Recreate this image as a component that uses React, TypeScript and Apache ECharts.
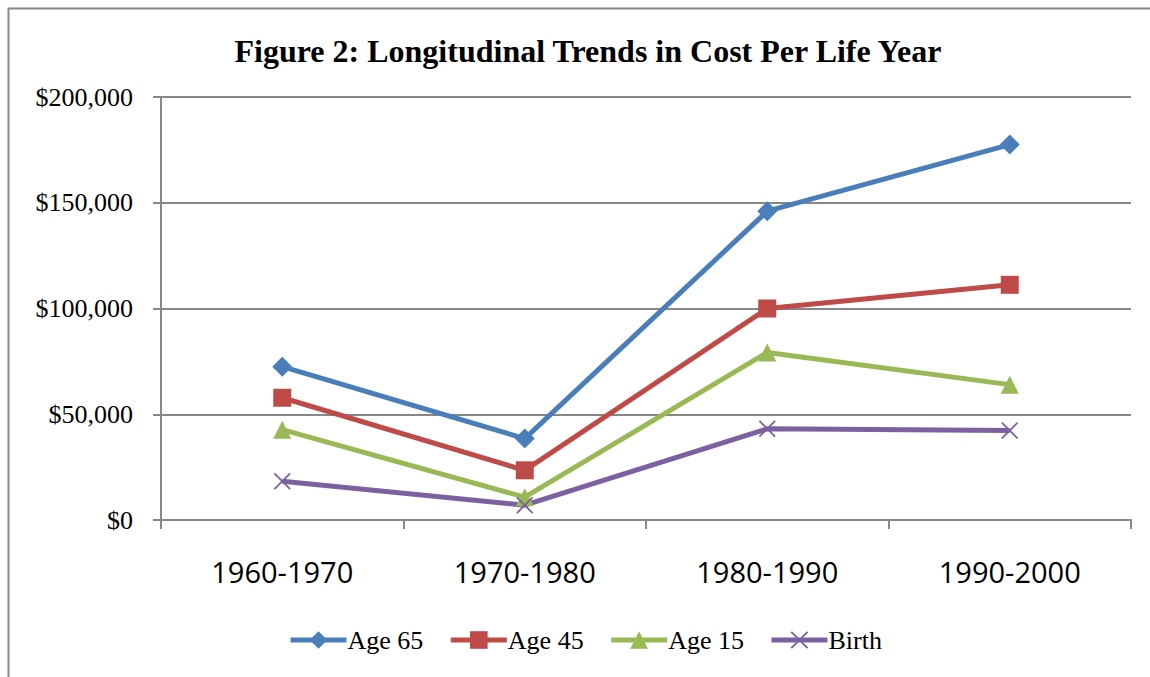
import React, { useEffect, useRef } from "react";
import * as echarts from "echarts";

const categories = ["1960-1970", "1970-1980", "1980-1990", "1990-2000"];
const age65 = [72500, 38500, 146000, 177500];
const age45 = [57800, 23500, 100000, 111200];
const age15 = [42700, 10800, 79200, 64000];
const birth = [18300, 7000, 43100, 42300];
const yTicks = { min: 0, max: 200000, interval: 50000 };

const crossPath =
  "path://M0,1.5 L1.5,0 L10,8.5 L18.5,0 L20,1.5 L11.5,10 L20,18.5 L18.5,20 L10,11.5 L1.5,20 L0,18.5 L8.5,10 Z";

export default function App() {
  const ref = useRef<HTMLDivElement>(null);
  useEffect(() => {
    const chart = echarts.init(ref.current!, null, { renderer: "svg" });
    const grey = "#878787";
    const serif = "Liberation Serif, Times New Roman, serif";
    const mk = (name: string, data: number[], color: string, symbol: string, size: number) => ({
      name,
      type: "line",
      data,
      symbol,
      symbolSize: size,
      lineStyle: { color, width: 5 },
      itemStyle: { color, borderColor: color, borderWidth: 0 },
      z: 3,
    });
    chart.setOption({
      animation: false,
      backgroundColor: "#fff",
      title: {
        text: "Figure 2: Longitudinal Trends in Cost Per Life Year",
        left: 583,
        top: 30,
        textAlign: "center",
        textStyle: {
          fontFamily: serif,
          fontWeight: "bold",
          fontSize: 32,
          color: "#000",
        },
      },
      graphic: [
        {
          type: "rect",
          shape: { x: 8.5, y: 8.5, width: 1200, height: 720 },
          style: { fill: "none", stroke: grey, lineWidth: 2 },
          silent: true,
        },
      ],
      grid: { left: 161, right: 19, top: 97, bottom: 157 },
      legend: {
        left: 283,
        top: 622,
        itemWidth: 56,
        itemHeight: 22,
        itemGap: 25,
        lineStyle: { width: 5 },
        textStyle: {
          fontFamily: serif,
          fontSize: 26,
          color: "#000",
          padding: [0, 0, 0, -4],
        },
        data: ["Age 65", "Age 45", "Age 15", "Birth"],
      },
      xAxis: {
        type: "category",
        data: categories,
        boundaryGap: true,
        axisLine: { lineStyle: { color: grey, width: 2 } },
        axisTick: { show: true, length: 9, lineStyle: { color: grey, width: 2 } },
        axisLabel: {
          margin: 37,
          fontFamily: "Open Sans, Liberation Sans, sans-serif",
          fontSize: 29,
          color: "#000",
        },
        splitLine: { show: false },
      },
      yAxis: {
        type: "value",
        min: yTicks.min,
        max: yTicks.max,
        interval: yTicks.interval,
        axisLine: { show: true, lineStyle: { color: grey, width: 2 } },
        axisTick: { show: true, length: 8, lineStyle: { color: grey, width: 2 } },
        axisLabel: {
          margin: 28,
          fontFamily: serif,
          fontSize: 26,
          color: "#000",
          formatter: (v: number) => "$" + v.toLocaleString("en-US"),
        },
        splitLine: { show: true, lineStyle: { color: grey, width: 2 } },
      },
      series: [
        mk("Age 65", age65, "#4A7EBB", "diamond", 20),
        mk("Age 45", age45, "#BE4B48", "rect", 18),
        mk("Age 15", age15, "#98B954", "triangle", 18),
        mk("Birth", birth, "#7D60A0", crossPath, 17),
      ],
    });
    return () => chart.dispose();
  }, []);
  return (
    <div
      ref={ref}
      style={{ position: "fixed", left: 0, top: 0, width: 1150, height: 677 }}
    />
  );
}
